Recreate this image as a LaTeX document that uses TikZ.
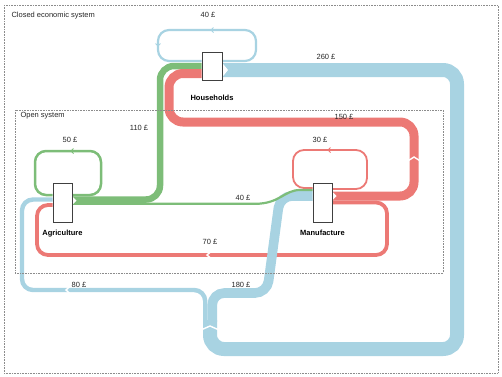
\documentclass[tikz,border=0pt]{standalone}
\usepackage{fontspec}
\setmainfont{Liberation Sans}
\usetikzlibrary{calc,positioning}

\definecolor{flowblue}{RGB}{168,211,226}
\definecolor{flowgreen}{RGB}{125,189,120}
\definecolor{flowred}{RGB}{236,121,117}

\pgfdeclarelayer{flows}
\pgfsetlayers{flows,main}

\newcommand{\chevup}[3]{\draw[white,line width=1.4pt] (#1-#3,#2+3.5) -- (#1,#2) -- (#1+#3,#2+3.5);}
\newcommand{\chevleft}[3]{\draw[white,line width=1.4pt] (#1+3.5,#2-#3) -- (#1,#2) -- (#1+3.5,#2+#3);}
\newcommand{\tipleft}[3]{\draw[#3,line width=0.9pt] (#1+2.5,#2-2.5) -- (#1,#2) -- (#1+2.5,#2+2.5);}
\newcommand{\tipdown}[3]{\draw[#3,line width=0.9pt] (#1-2.5,#2-2.5) -- (#1,#2) -- (#1+2.5,#2-2.5);}

\begin{document}
\begin{tikzpicture}[x=1pt,y=-1pt,
  every node/.style={font=\fontsize{7.5}{9}\selectfont, text=black!85},
  box/.style={draw=black!75, fill=white, line width=0.6pt, minimum width=19pt, minimum height=39pt, inner sep=0pt},
  boxlabel/.style={font=\bfseries\fontsize{7.5}{9}\selectfont, text=black},
  frame/.style={draw=black!45, densely dotted, line width=0.6pt}]
  \useasboundingbox (0,0) rectangle (502,376);

  \draw[frame] (4,5) rectangle (498,373);
  \draw[frame] (15,110) rectangle (443,273);
  \node[anchor=west] (closed) at (8,16) {Closed economic system};
  \node[anchor=west] (open) at (17,116) {Open system};

  \node[box, minimum width=20pt, minimum height=28pt] (hh) at (212,66) {};
  \node[box] (agr) at (62.5,202.5) {};
  \node[box] (man) at (322.5,202.5) {};
  \node[boxlabel, below=11pt of hh] (hhlabel) {Households};
  \node[boxlabel, below=4pt of agr] (agrlabel) {Agriculture};
  \node[boxlabel, below=4pt of man] (manlabel) {Manufacture};

  \begin{pgfonlayer}{flows}
    \draw[flowblue, line width=2.2pt, rounded corners=11pt] (hh.east |- 0,61) -- (256,61) -- (256,30) -- (158,30) -- (158,61) -- (hh.west |- 0,61);
    \draw[flowgreen, line width=2.5pt, rounded corners=11pt] (agr.east |- 0,195) -- (101,195) -- (101,151) -- (35,151) -- (35,195) -- (agr.west |- 0,195);
    \draw[flowred, line width=1.8pt, rounded corners=11pt] (man.east |- 0,189) -- (367,189) -- (367,150) -- (293,150) -- (293,188) -- (man.west |- 0,188);

    \draw[flowgreen, line width=6.5pt, rounded corners=14pt] (agr.east |- 0,199.5) -- (160,199.5) -- (160,66) -- (hh.west |- 0,66);
    \draw[flowred, line width=9pt, rounded corners=14pt] (man.east |- 0,196) -- (414,196) -- (414,122) -- (169,122) -- (169,73.5) -- (hh.west |- 0,73.5);
    \draw[flowred, line width=3.8pt, rounded corners=11pt] (man.east |- 0,202.5) -- (387,202.5) -- (387,255) -- (37,255) -- (37,205) -- (agr.west |- 0,205);

    \draw[flowblue, line width=14pt, rounded corners=14pt] (hh.east |- 0,70) -- (457,70) -- (457,349) -- (210,349) -- (210,320);
    \draw[flowblue, line width=4.4pt, rounded corners=11pt] (205.2,322) -- (205.2,290) -- (22,290) -- (22,199.5) -- (agr.west |- 0,199.5);
    \draw[flowblue, line width=9.6pt, rounded corners=12pt] (212.2,322) -- (212.2,293) -- (267,293) -- (280,196) -- (man.west |- 0,196);

    \draw[flowgreen, line width=2.2pt] (agr.east |- 0,203.8) -- (255,203.8) .. controls (280,203.8) and (284,190) .. (300,190) -- (man.west |- 0,190);

    \fill[white] (hh.east |- 0,63) -- (228,70) -- (hh.east |- 0,77) -- cycle;
    \fill[white] (agr.east |- 0,196.3) -- (76.5,200.5) -- (agr.east |- 0,204.9) -- cycle;
    \fill[white] (man.east |- 0,191.5) -- (336.5,196) -- (man.east |- 0,200.5) -- cycle;

    \chevup{210}{326}{8}
    \chevup{414}{157}{5.5}
    \chevleft{207}{255}{3}
    \chevleft{66}{290}{3.2}
    \tipleft{211}{30}{flowblue}
    \tipdown{158}{46}{flowblue}
    \tipleft{71}{151}{flowgreen}
    \tipleft{328}{150}{flowred}
  \end{pgfonlayer}

  \node (l40a) at (208,15) {40 £};
  \node (l260) at (326,57) {260 £};
  \node (l110) at (139,128) {110 £};
  \node (l150) at (344,117) {150 £};
  \node (l30) at (320,140) {30 £};
  \node (l50) at (70,140) {50 £};
  \node (l40b) at (243,198) {40 £};
  \node (l70) at (210,242) {70 £};
  \node (l80) at (79,285) {80 £};
  \node (l180) at (241,285) {180 £};
\end{tikzpicture}
\end{document}
